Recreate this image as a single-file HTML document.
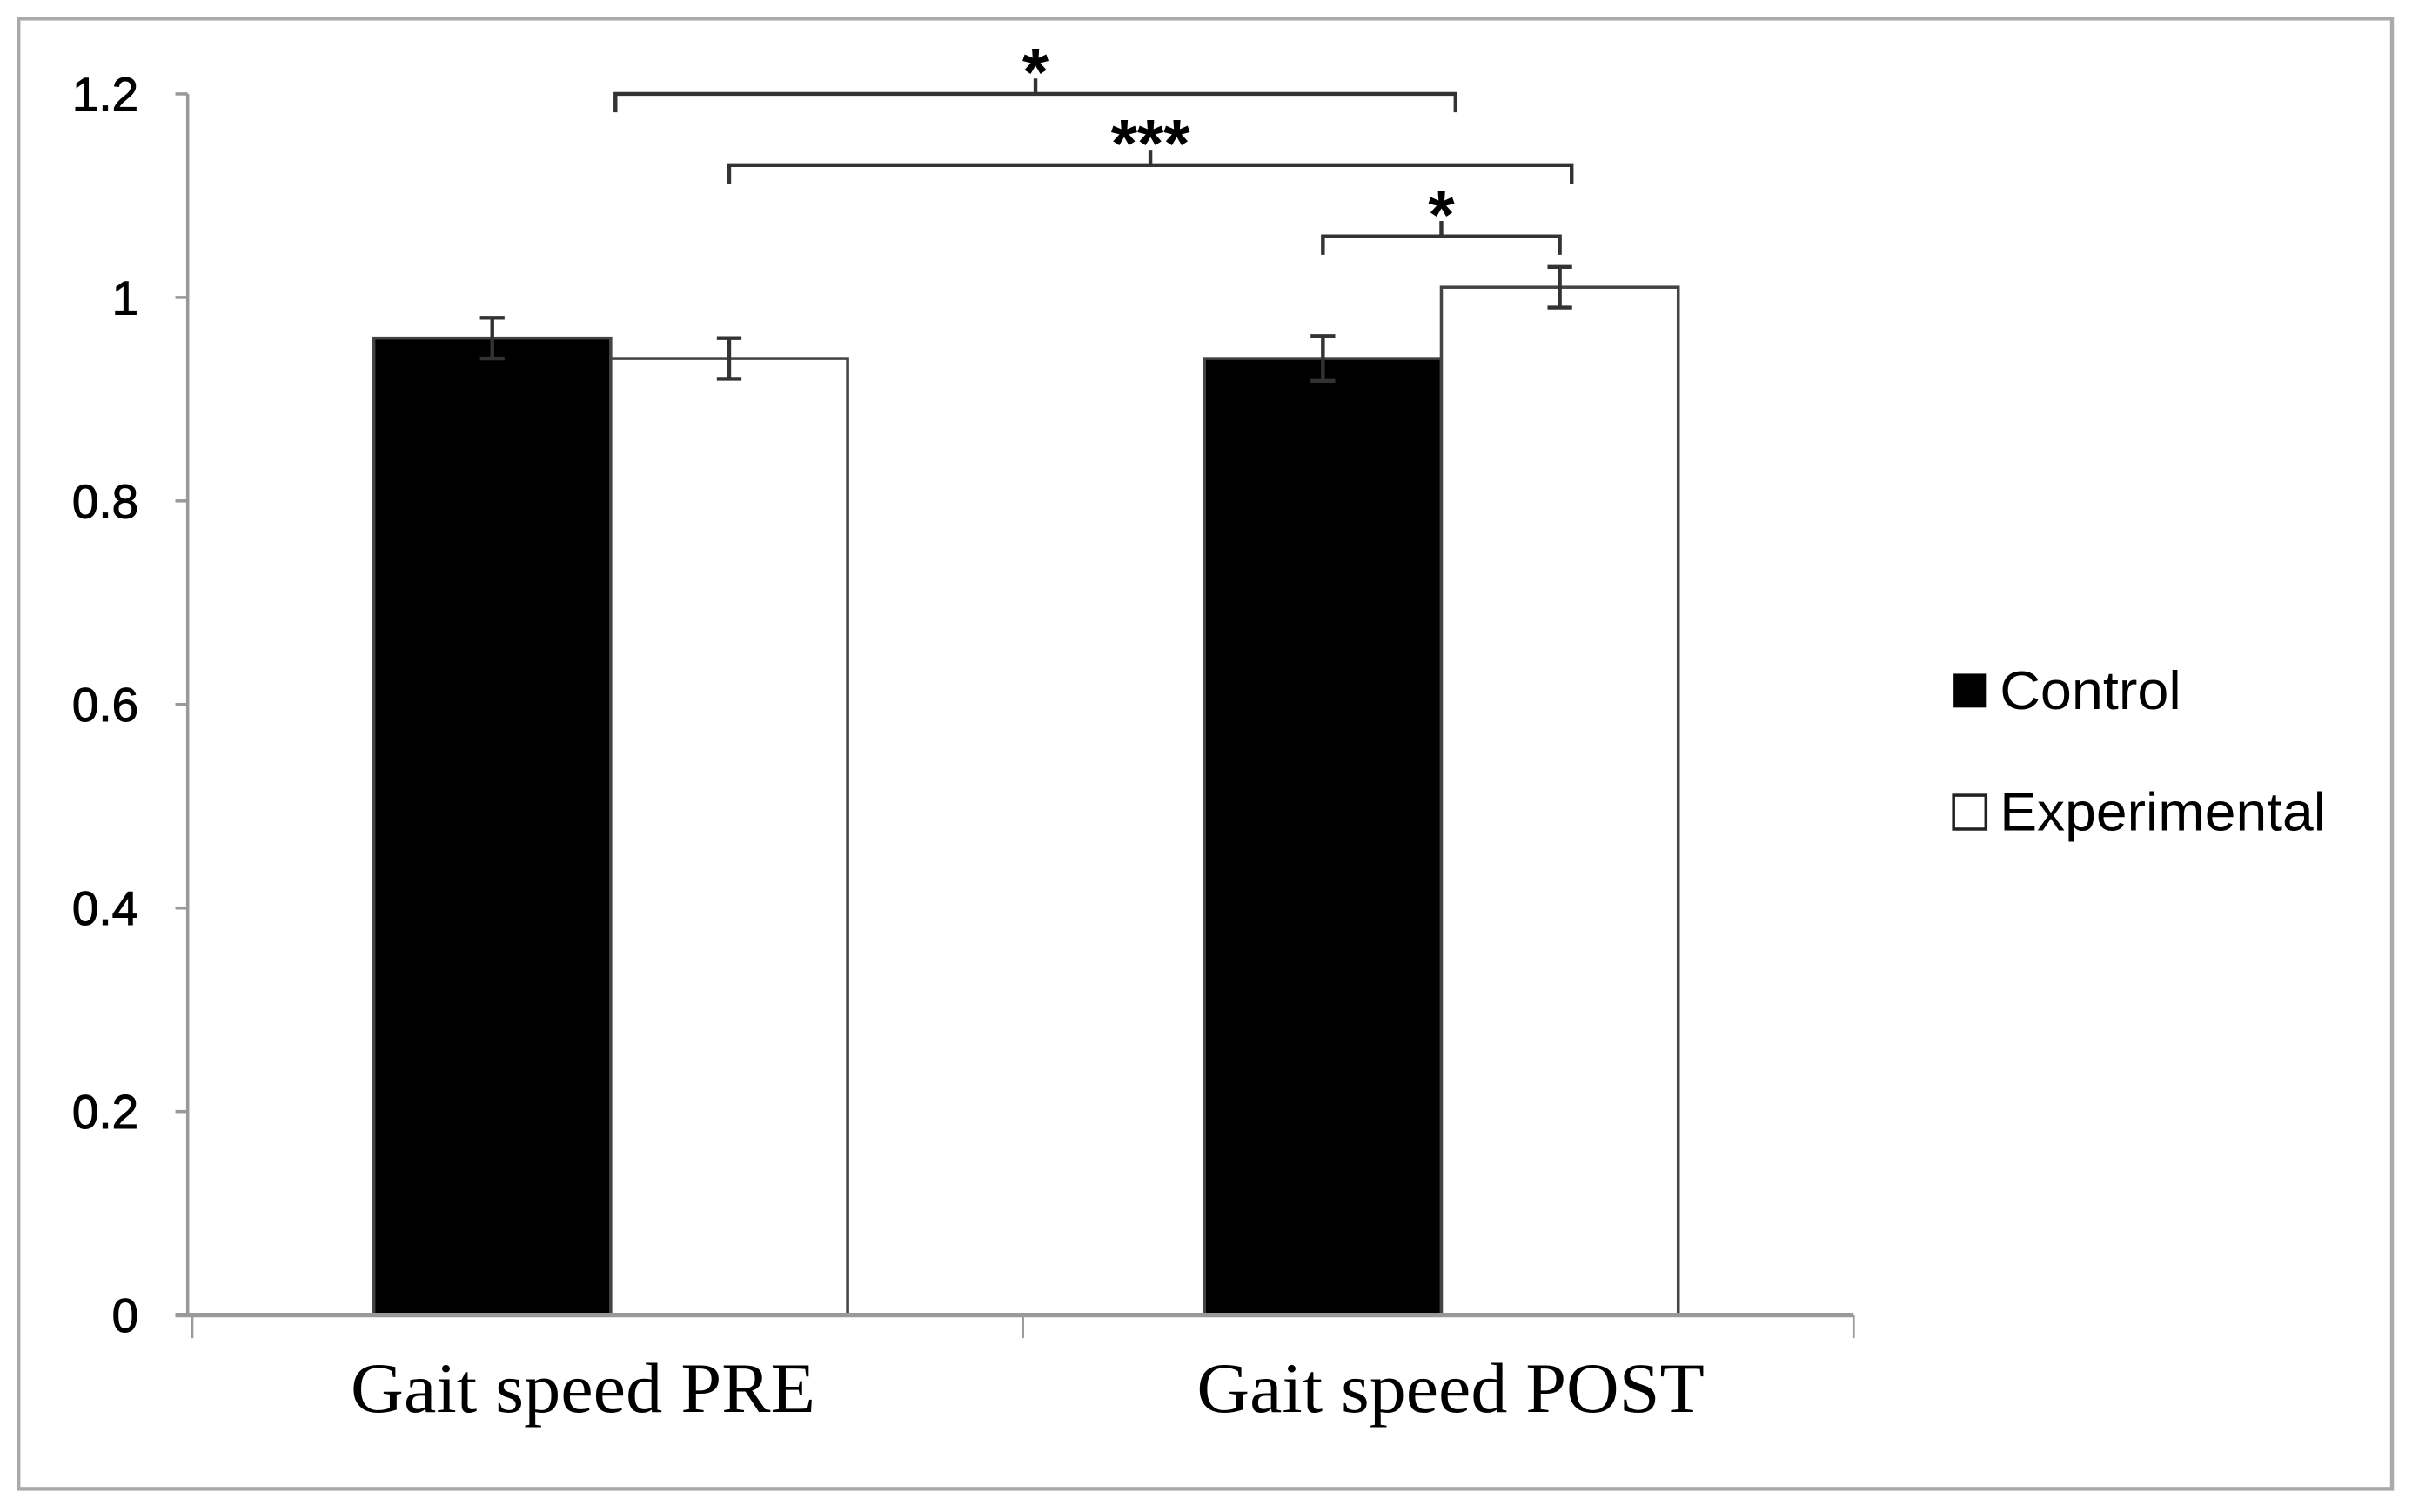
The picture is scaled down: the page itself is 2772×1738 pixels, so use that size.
<!DOCTYPE html>
<html><head><meta charset="utf-8"><style>
html,body{margin:0;padding:0;background:#fff}
svg{display:block}
</style></head><body>
<svg id="chart" width="2772" height="1738" viewBox="0 0 1568 983" xmlns="http://www.w3.org/2000/svg">
<rect x="12" y="12" width="1543" height="956" fill="#fff" stroke="#aaa" stroke-width="2.5"/>
<g id="plot"></g>
<g>
<rect x="1270" y="438" width="21" height="22" fill="#000"/>
<text x="1300" y="461" font-family="Liberation Sans, sans-serif" font-size="35" fill="#000" textLength="118" lengthAdjust="spacingAndGlyphs">Control</text>
<rect x="1270" y="517" width="21" height="22" fill="#fff" stroke="#222" stroke-width="2"/>
<text x="1300" y="540" font-family="Liberation Sans, sans-serif" font-size="35" fill="#000" textLength="212" lengthAdjust="spacingAndGlyphs">Experimental</text>
</g>
</svg>
<script>
const categories = ["Gait speed PRE", "Gait speed POST"];
const controlValues = [0.96, 0.94];
const experimentalValues = [0.94, 1.01];
const controlErrors = [0.02, 0.022];
const experimentalErrors = [0.02, 0.02];
const yTicks = [0, 0.2, 0.4, 0.6, 0.8, 1, 1.2];
const yTickLabels = ["0", "0.2", "0.4", "0.6", "0.8", "1", "1.2"];
const brackets = [
  {from:[0,0,1.02], to:[1,0,1.06], level:1.2, label:"*"},
  {from:[0,1,0.5], to:[1,1,0.55], level:1.13, label:"***"},
  {from:[1,0,0.5], to:[1,1,0.5], level:1.06, label:"*"}
];

const NS = "http://www.w3.org/2000/svg";
const g = document.getElementById("plot");
const X0 = 125, X1 = 1205, Y0 = 855, Y1 = 61, YMAX = 1.2;
const y = v => Y0 - (v / YMAX) * (Y0 - Y1);
const groupW = (X1 - X0) / categories.length;
const barW = 154;
const center = i => X0 + groupW * (i + 0.5) + 2;
const barX = (i, s) => center(i) - barW + s * barW;
const labelWidths = [302, 330];
function mk(tag, attrs, parent) {
  const e = document.createElementNS(NS, tag);
  for (const k in attrs) e.setAttribute(k, attrs[k]);
  (parent || g).appendChild(e);
  return e;
}

const yAxis = mk("line", {x1:122, y1:Y1, x2:122, y2:Y0, stroke:"#999", "stroke-width":2});


yTicks.forEach((t, i) => {
  const tk = mk("line", {x1:114, y1:y(t), x2:122, y2:y(t), stroke:"#999", "stroke-width":2});
  
  
  const tl = mk("text", {x:90, y:y(t) + 11, "text-anchor":"end", "font-family":"Liberation Sans, sans-serif", "font-size":31, fill:"#000", stroke:"#000", "stroke-width":0.6});
  tl.textContent = yTickLabels[i];
  
  
});

function bar(i, s, v, err, fill) {
  const r = mk("rect", {x:barX(i, s), y:y(v), width:barW, height:Y0 - y(v), fill:fill, stroke:"#444", "stroke-width":2});
  
  
  const cx = barX(i, s) + barW / 2;
  const eg = mk("g", {stroke:"#333", "stroke-width":2.5});
  
  
  mk("line", {x1:cx, y1:y(v + err), x2:cx, y2:y(v - err)}, eg);
  mk("line", {x1:cx - 8, y1:y(v + err), x2:cx + 8, y2:y(v + err)}, eg);
  mk("line", {x1:cx - 8, y1:y(v - err), x2:cx + 8, y2:y(v - err)}, eg);
}
categories.forEach((c, i) => {
  bar(i, 0, controlValues[i], controlErrors[i], "#000");
  bar(i, 1, experimentalValues[i], experimentalErrors[i], "#fff");
  const lb = mk("text", {x:center(i) - 18 + 24 * i - labelWidths[i] / 2, y:918, "font-family":"Liberation Serif, serif", "font-size":46, fill:"#000", textLength:labelWidths[i], lengthAdjust:"spacingAndGlyphs"});
  lb.textContent = c;
  
  
});

const xAxis = mk("line", {x1:114, y1:Y0, x2:X1, y2:Y0, stroke:"#999", "stroke-width":3});


for (let k = 0; k <= categories.length; k++) {
  const xt = X0 + groupW * k;
  const t = mk("line", {x1:xt, y1:Y0, x2:xt, y2:870, stroke:"#999", "stroke-width":1.5});
  
  
}

brackets.forEach(b => {
  const xa = barX(b.from[0], b.from[1]) + barW * b.from[2];
  const xb = barX(b.to[0], b.to[1]) + barW * b.to[2];
  const yy = y(b.level);
  const bg = mk("g", {fill:"none", stroke:"#333", "stroke-width":2.5});
  
  
  mk("path", {d:`M${xa} ${yy + 12} L${xa} ${yy} L${xb} ${yy} L${xb} ${yy + 12}`}, bg);
  const mx = (xa + xb) / 2;
  mk("line", {x1:mx, y1:yy, x2:mx, y2:yy - 10}, bg);
  const st = mk("text", {x:mx, y:yy + 1, "text-anchor":"middle", "font-family":"Liberation Sans, sans-serif", "font-size":44, "font-weight":"bold", fill:"#000"});
  st.textContent = b.label;
  
  
});
</script>
</body></html>
